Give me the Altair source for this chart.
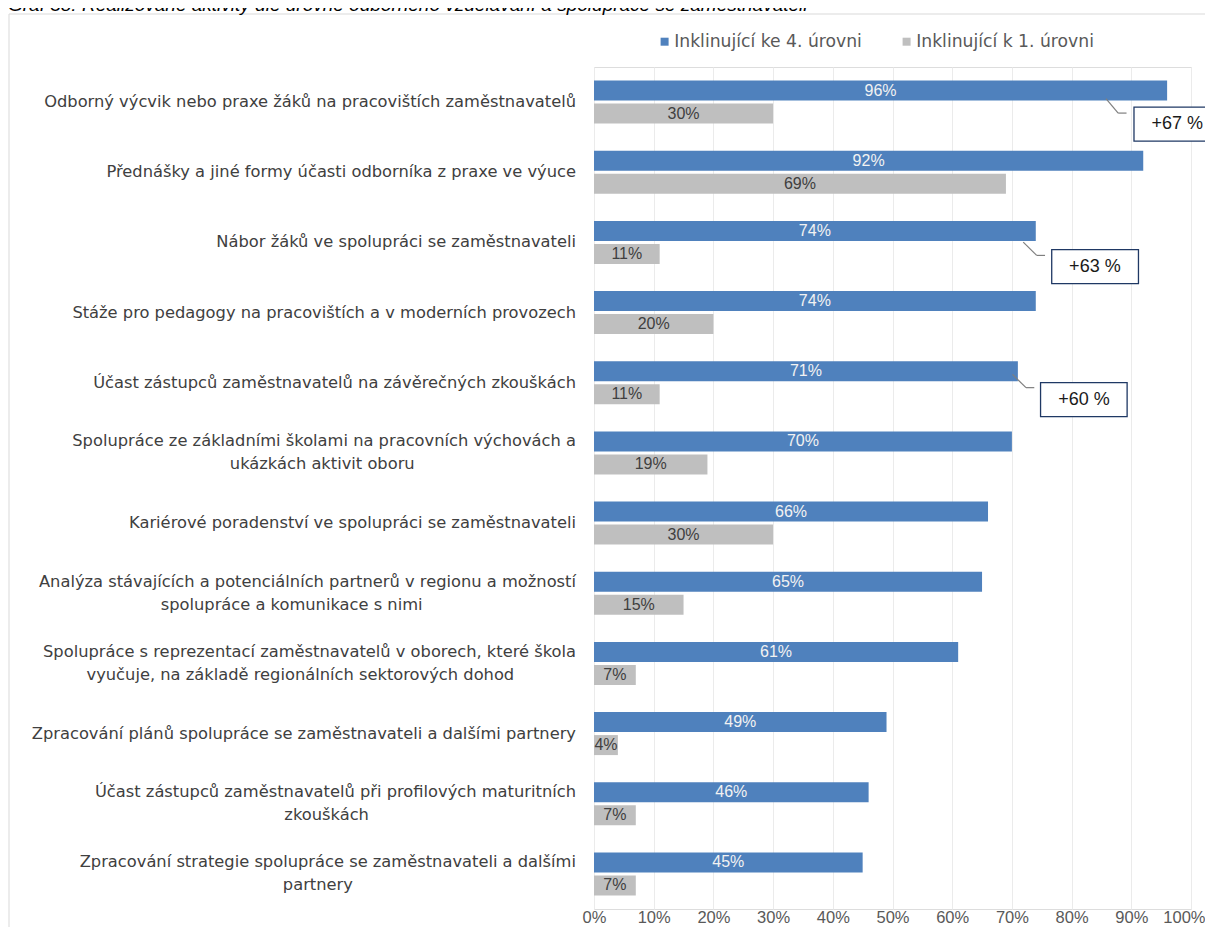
import altair as alt
import pandas as pd

# ---------------- data ----------------
categories = [
    "Odborný výcvik nebo praxe žáků na pracovištích zaměstnavatelů",
    "Přednášky a jiné formy účasti odborníka z praxe ve výuce",
    "Nábor žáků ve spolupráci se zaměstnavateli",
    "Stáže pro pedagogy na pracovištích a v moderních provozech",
    "Účast zástupců zaměstnavatelů na závěrečných zkouškách",
    "Spolupráce ze základními školami na pracovních výchovách a|ukázkách aktivit oboru",
    "Kariérové poradenství ve spolupráci se zaměstnavateli",
    "Analýza stávajících a potenciálních partnerů v regionu a možností|spolupráce a komunikace s nimi",
    "Spolupráce s reprezentací zaměstnavatelů v oborech, které škola|vyučuje, na základě regionálních sektorových dohod",
    "Zpracování plánů spolupráce se zaměstnavateli a dalšími partnery",
    "Účast zástupců zaměstnavatelů při profilových maturitních|zkouškách",
    "Zpracování strategie spolupráce se zaměstnavateli a dalšími|partnery",
]
series_names = ["Inklinující ke 4. úrovni", "Inklinující k 1. úrovni"]
level4 = [96, 92, 74, 74, 71, 70, 66, 65, 61, 49, 46, 45]
level1 = [30, 69, 11, 20, 11, 19, 30, 15, 7, 4, 7, 7]

callout_cats = [categories[0], categories[2], categories[4]]
callout_texts = ["+67 %", "+63 %", "+60 %"]

title_text = "Graf 38: Realizované aktivity dle úrovně odborného vzdělávání a spolupráce se zaměstnavateli"

# ---------------- tables ----------------
rows = []
for c, a, b in zip(categories, level4, level1):
    rows.append({"cat": c, "series": series_names[0], "value": a / 100, "label": f"{a}%"})
    rows.append({"cat": c, "series": series_names[1], "value": b / 100, "label": f"{b}%"})
df = pd.DataFrame(rows)

lab = pd.DataFrame({
    "cat": categories,
    "line1": [c.split("|")[0] for c in categories],
    "line2": [c.split("|")[1] if "|" in c else "" for c in categories],
    "two": ["|" in c for c in categories],
})

BLUE = "#4f81bd"
GRAY = "#bfbfbf"
TXT = "#404040"
LFONT = "DejaVu Sans"
LSIZE = 16.3
CHARW = 8.75

y_enc = alt.Y("cat:N", sort=categories, axis=None,
              scale=alt.Scale(paddingInner=0.387, paddingOuter=0.1935))
yoff_enc = alt.YOffset("series:N", sort=series_names,
                       scale=alt.Scale(paddingInner=0.13, paddingOuter=0))

base = alt.Chart(df)

bars = base.mark_bar().encode(
    y=y_enc,
    yOffset=yoff_enc,
    x=alt.X("value:Q", scale=alt.Scale(domain=[0, 1], nice=False),
            axis=alt.Axis(values=[i / 10 for i in range(11)], format=".0%",
                          grid=True, gridColor="#ebebeb", domain=False, ticks=False,
                          labelFont="Liberation Sans", labelFontSize=16.5,
                          labelColor="#595959", labelPadding=13, labelBaseline="alphabetic",
                          labelAlign={"condition": {"test": "datum.value >= 1", "value": "right"},
                                      "value": "center"},
                          labelOffset={"condition": {"test": "datum.value >= 1", "value": 14},
                                       "value": 0},
                          labelFlush=False, labelOverlap=False, title=None)),
    color=alt.Color("series:N", sort=series_names,
                    scale=alt.Scale(domain=series_names, range=[BLUE, GRAY]),
                    legend=alt.Legend(title=None, orient="none", direction="horizontal",
                                      legendX=62, legendY=-34, symbolType="square",
                                      symbolSize=64, labelFont=LFONT, labelFontSize=17.2,
                                      labelColor="#595959", columnPadding=36,
                                      labelOffset=1, labelLimit=400)),
)

bar_labels = base.mark_text(font="Liberation Sans", fontSize=16, baseline="middle").encode(
    y=y_enc,
    yOffset=yoff_enc,
    x=alt.X("mid:Q"),
    text="label:N",
    color=alt.condition(alt.datum.series == series_names[0],
                        alt.value("#f2f2f2"), alt.value(TXT)),
).transform_calculate(mid="datum.value / 2")

lab_base = alt.Chart(lab)
line1_single = lab_base.mark_text(align="right", baseline="middle", font=LFONT,
                                  fontSize=LSIZE, color=TXT).encode(
    y=y_enc, x=alt.value(-18), text="line1:N"
).transform_filter("!datum.two")
line1_double = lab_base.mark_text(align="right", baseline="middle", font=LFONT,
                                  fontSize=LSIZE, color=TXT, dy=-11.5).encode(
    y=y_enc, x=alt.value(-18), text="line1:N"
).transform_filter("datum.two")
line2 = lab_base.mark_text(align="center", baseline="middle", font=LFONT,
                           fontSize=LSIZE, color=TXT, dy=11.5).encode(
    y=y_enc, x=alt.X("px:Q", scale=None), text="line2:N"
).transform_filter("datum.two").transform_calculate(
    px=f"-18 - length(datum.line1) * {CHARW} / 2")

# ---------------- callouts ----------------
geom = [
    dict(x0=0.8576, x1=0.878, x2=0.892, d0=-3.4, d1=11.0, bx0=0.9045, bx1=1.05, bd=22.0, tx=0.977),
    dict(x0=0.719, x1=0.7415, x2=0.7555, d0=-0.3, d1=13.0, bx0=0.7667, bx1=0.912, bd=24.3, tx=0.839),
    dict(x0=0.701, x1=0.7236, x2=0.7375, d0=-8.4, d1=4.9, bx0=0.748, bx1=0.893, bd=16.8, tx=0.8207),
]
callout_layers = []
for cat, txt, g in zip(callout_cats, callout_texts, geom):
    d = pd.DataFrame({"cat": [cat], "txt": [txt],
                      "x0": [g["x0"]], "x1": [g["x1"]], "x2": [g["x2"]],
                      "bx0": [g["bx0"]], "bx1": [g["bx1"]], "tx": [g["tx"]]})
    c = alt.Chart(d)
    callout_layers.append(c.mark_rule(color="#7f7f7f", strokeWidth=1.2,
                                      yOffset=g["d0"], y2Offset=g["d1"]).encode(
        x="x0:Q", x2="x1:Q", y=y_enc, y2=alt.Y2("cat:N")))
    callout_layers.append(c.mark_rule(color="#7f7f7f", strokeWidth=1.2,
                                      yOffset=g["d1"], y2Offset=g["d1"]).encode(
        x="x1:Q", x2="x2:Q", y=y_enc, y2=alt.Y2("cat:N")))
    callout_layers.append(c.mark_bar(fill="white", stroke="#1f3864", strokeWidth=1.3,
                                     height=34, yOffset=g["bd"]).encode(
        x="bx0:Q", x2="bx1:Q", y=y_enc))
    callout_layers.append(c.mark_text(font="Liberation Sans", fontSize=18, color="#1a1a1a",
                                      baseline="middle", yOffset=g["bd"]).encode(
        x="tx:Q", y=y_enc, text="txt:N"))

# ---------------- frame & title ----------------
deco = alt.Chart(pd.DataFrame({"t": [title_text]}))
frame = deco.mark_rect(fill="transparent", stroke="#d9d9d9", strokeWidth=1).encode(
    x=alt.value(-585), x2=alt.value(800), y=alt.value(-53), y2=alt.value(1000))
title = deco.mark_text(align="left", baseline="alphabetic", font="Liberation Sans",
                       fontSize=19, fontStyle="italic", color="#000000").encode(
    x=alt.value(-586), y=alt.value(-56), text="t:N")

chart = alt.layer(
    frame, title, bars, bar_labels, line1_single, line1_double, line2, *callout_layers
).properties(
    width=597, height=842,
    autosize=alt.AutoSizeParams(type="none"),
    padding={"left": 586, "top": 59, "right": 14, "bottom": 18},
).configure_view(stroke=None).configure(background="white")

chart.save("out.html", embed_options={"renderer": "svg", "actions": False})
